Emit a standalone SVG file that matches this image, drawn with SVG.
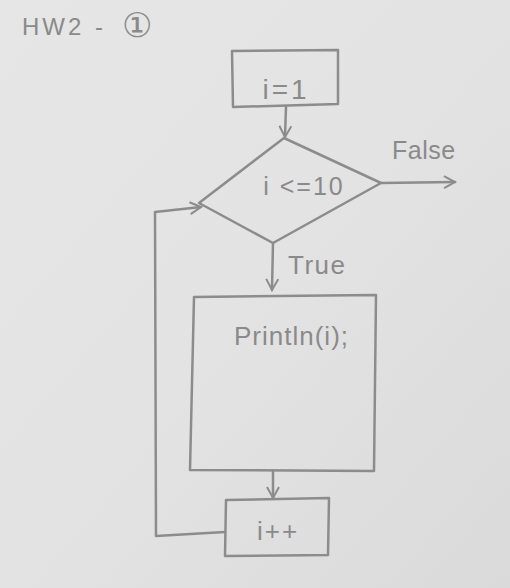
<svg xmlns="http://www.w3.org/2000/svg" width="510" height="588" viewBox="0 0 510 588">
<defs>
<linearGradient id="bg" x1="0" y1="0" x2="1" y2="1">
<stop offset="0" stop-color="#e6e6e6"/>
<stop offset="0.5" stop-color="#e3e3e3"/>
<stop offset="1" stop-color="#dadada"/>
</linearGradient>
<marker id="arr" markerWidth="14" markerHeight="14" refX="12" refY="7" orient="auto" markerUnits="userSpaceOnUse">
<path d="M1,1 L12,7 L1,13" fill="none" stroke="#8c8c8c" stroke-width="2"/>
</marker>
<style>
.s{fill:none;stroke:#8c8c8c;stroke-width:2.5;stroke-linejoin:round;stroke-linecap:round}
.t{font-family:"Liberation Sans","DejaVu Sans",sans-serif;fill:#8a8a8a}
</style>
</defs>
<rect width="510" height="588" fill="url(#bg)"/>
<g id="title">
<text class="t" x="22" y="35" font-size="24" letter-spacing="3">HW2 <tspan x="95">-</tspan> <tspan x="122" font-size="34" y="37">①</tspan></text>
</g>
<g id="init">
<path class="s" d="M232,51 L338,50 L338,104 L233,107 Z"/>
<text class="t" x="286" y="99" font-size="28" text-anchor="middle" letter-spacing="3">i=1</text>
</g>
<g id="cond">
<path class="s" d="M284,138 L381,183 L273,243 L199,203 Z"/>
<text class="t" x="304" y="195" font-size="25" text-anchor="middle" letter-spacing="2">i &lt;=10</text>
</g>
<g id="print">
<path class="s" d="M194,297 L376,295 L374,471 L190,470 Z"/>
<text class="t" x="234" y="345" font-size="26" letter-spacing="1">Println(i);</text>
</g>
<g id="incr">
<path class="s" d="M226,500 L329,498 L328,555 L225,556 Z"/>
<text class="t" x="278" y="540" font-size="26" text-anchor="middle" letter-spacing="2">i++</text>
</g>
<g id="connectors">
<path class="s" d="M286,107 L285,137" marker-end="url(#arr)"/>
<path class="s" d="M381,183 L455,182" marker-end="url(#arr)"/>
<text class="t" x="392" y="159" font-size="25" letter-spacing="0.5">False</text>
<path class="s" d="M273,243 L272,290" marker-end="url(#arr)"/>
<text class="t" x="288" y="274" font-size="26" letter-spacing="1.5">True</text>
<path class="s" d="M273,471 L273,498" marker-end="url(#arr)"/>
<path class="s" d="M225,532 L156,536 L155,212 L201,207" marker-end="url(#arr)"/>
</g>
</svg>
